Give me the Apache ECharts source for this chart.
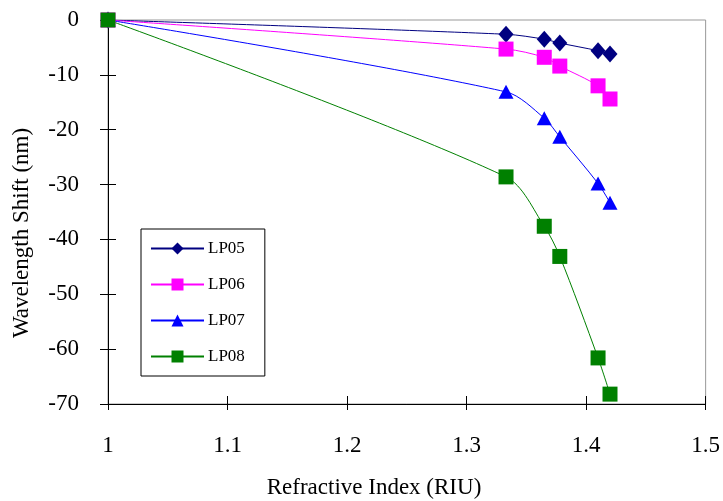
<!DOCTYPE html>
<html><head><meta charset="utf-8">
<script src="https://cdn.jsdelivr.net/npm/echarts@6/dist/echarts.min.js"></script>
<style>html,body{margin:0;padding:0;background:#fff}#c{width:723px;height:501px}</style>
</head><body><div id="c"></div>
<script>
const xRI = [1, 1.333, 1.365, 1.378, 1.41, 1.42];
const lp05 = [0, -2.6, -3.5, -4.2, -5.6, -6.2];
const lp06 = [0, -5.3, -6.8, -8.4, -12.0, -14.4];
const lp07 = [0, -13.1, -17.9, -21.3, -29.8, -33.3];
const lp08 = [0, -28.6, -37.6, -43.1, -61.6, -68.2];
const seriesNames = ['LP05', 'LP06', 'LP07', 'LP08'];
const yTicks = [0, -10, -20, -30, -40, -50, -60, -70];
const xTicks = [1, 1.1, 1.2, 1.3, 1.4, 1.5];
const xTitle = 'Refractive Index (RIU)';
const yTitle = 'Wavelength Shift (nm)';

const font = 'Liberation Serif, Times New Roman, serif';
const pairs = v => xRI.map((x, i) => [x, v[i]]);
const defs = [
  {name: seriesNames[0], data: lp05, color: '#000080', symbol: 'diamond', size: [15, 17]},
  {name: seriesNames[1], data: lp06, color: '#FF00FF', symbol: 'rect', size: 15},
  {name: seriesNames[2], data: lp07, color: '#0000FF', symbol: 'triangle', size: [15, 14]},
  {name: seriesNames[3], data: lp08, color: '#008000', symbol: 'rect', size: 15}
];
const chart = echarts.init(document.getElementById('c'));
const axisCommonX = {
  type: 'value', min: 1, max: 1.5, interval: 0.1, position: 'bottom',
  axisLine: {onZero: false, lineStyle: {color: '#000', width: 1}},
  splitLine: {show: false}
};
const axisCommonY = {
  type: 'value', min: -70, max: 0, interval: 10, position: 'left',
  axisLine: {onZero: false, lineStyle: {color: '#000', width: 1}},
  splitLine: {show: false}
};
chart.setOption({
  animation: false,
  backgroundColor: '#fff',
  grid: {left: 108, top: 20, right: 14, bottom: 97, show: true, borderColor: '#999', borderWidth: 1},
  legend: {
    orient: 'vertical', left: 141, top: 229, width: 100,
    backgroundColor: '#fff', borderColor: '#000', borderWidth: 1,
    padding: [11, 20, 11, 9], itemGap: 19, itemWidth: 53, itemHeight: 15,
    textStyle: {fontFamily: font, fontSize: 17, color: '#000', padding: [0, 0, 0, -1]},
    data: seriesNames
  },
  graphic: [
    {type: 'text', x: 374, y: 488, z: 10,
      style: {text: xTitle, font: '23px ' + font, fill: '#000', textAlign: 'center', textVerticalAlign: 'middle'}},
    {type: 'text', x: 22, y: 233, rotation: Math.PI / 2, z: 10,
      style: {text: yTitle, font: '23px ' + font, fill: '#000', textAlign: 'center', textVerticalAlign: 'middle'}}
  ],
  xAxis: [
    Object.assign({}, axisCommonX, {
      axisTick: {show: true, inside: false, length: 6, lineStyle: {color: '#000'}},
      axisLabel: {fontFamily: font, fontSize: 23, color: '#000', margin: 30,
        formatter: v => xTicks.includes(Math.round(v * 10) / 10) ? String(Math.round(v * 10) / 10) : ''}
    }),
    Object.assign({}, axisCommonX, {
      axisTick: {show: true, inside: true, length: 8, lineStyle: {color: '#000'}},
      axisLabel: {show: false}
    })
  ],
  yAxis: [
    Object.assign({}, axisCommonY, {
      axisTick: {show: true, inside: false, length: 8, lineStyle: {color: '#000'}},
      axisLabel: {fontFamily: font, fontSize: 23, color: '#000', margin: 29,
        formatter: v => yTicks.includes(v) ? String(v) : ''}
    }),
    Object.assign({}, axisCommonY, {
      axisTick: {show: true, inside: true, length: 8, lineStyle: {color: '#000'}},
      axisLabel: {show: false}
    })
  ],
  series: defs.map(d => ({
    name: d.name, type: 'line', data: pairs(d.data),
    smooth: 0.3, symbol: d.symbol, symbolSize: d.size,
    itemStyle: {color: d.color},
    lineStyle: {color: d.color, width: 1},
    z: 3
  }))
});
</script></body></html>
